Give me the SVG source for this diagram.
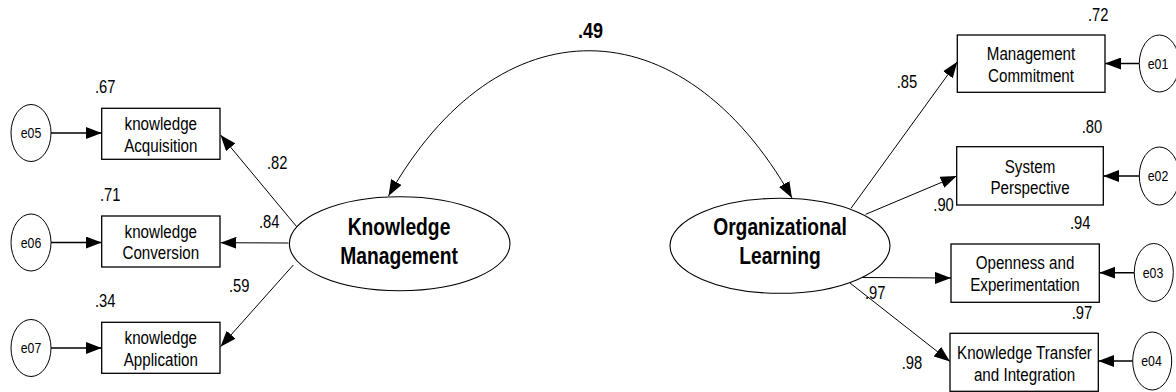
<svg xmlns="http://www.w3.org/2000/svg" width="1176" height="392" viewBox="0 0 1176 392">
  <style>
    .box { fill: #fff; stroke: #000; stroke-width: 1.3; }
    .lat { fill: #fff; stroke: #000; stroke-width: 1.1; }
    .err { fill: #fff; stroke: #000; stroke-width: 1; }
    .path { fill: none; stroke: #000; stroke-width: 1; marker-end: url(#arrow); }
    .epath { fill: none; stroke: #000; stroke-width: 1.6; marker-end: url(#arrow); }
    .cov { fill: none; stroke: #000; stroke-width: 1; marker-start: url(#arrowS); marker-end: url(#arrow); }
    text { font-family: "Liberation Sans", Arial, sans-serif; fill: #000; }
    .lbl { font-size: 18.5px; text-anchor: middle; }
    .big { font-size: 23.5px; font-weight: bold; text-anchor: middle; }
    .num { font-size: 18px; }
    .cor { font-size: 22px; font-weight: bold; text-anchor: middle; }
    .e { font-size: 15px; text-anchor: middle; }
  </style>
  <defs>
    <marker id="arrow" markerUnits="userSpaceOnUse" markerWidth="16" markerHeight="12" refX="16" refY="6" orient="auto">
      <path d="M0,0 L16,6 L0,12 z" fill="#000"/>
    </marker>
    <marker id="arrowS" markerUnits="userSpaceOnUse" markerWidth="16" markerHeight="12" refX="16" refY="6" orient="auto-start-reverse">
      <path d="M0,0 L16,6 L0,12 z" fill="#000"/>
    </marker>
  </defs>

  <rect width="1176" height="392" fill="#fff"/>

  <!-- connectors -->
  <g id="connectors">
    <!-- covariance between the two latent variables -->
    <path class="cov" d="M388.5,196 C498,1 682,3 792,198"/>
    <!-- Knowledge Management loadings -->
    <line class="path" x1="296.7" y1="226.7" x2="220.5" y2="135"/>
    <line class="path" x1="288.5" y1="243" x2="220.5" y2="242.7"/>
    <line class="path" x1="293.3" y1="265" x2="220.5" y2="346.7"/>
    <!-- Organizational Learning loadings -->
    <line class="path" x1="851" y1="208.3" x2="957.3" y2="61.7"/>
    <line class="path" x1="865.7" y1="214.3" x2="956.7" y2="176"/>
    <line class="path" x1="862" y1="277.5" x2="951" y2="278"/>
    <line class="path" x1="850" y1="283" x2="950" y2="361.5"/>
    <!-- error terms -->
    <line class="epath" x1="51" y1="133" x2="101.7" y2="133"/>
    <line class="epath" x1="51" y1="242.5" x2="101.7" y2="242.5"/>
    <line class="epath" x1="51" y1="348" x2="101.7" y2="348"/>
    <line class="epath" x1="1139.3" y1="63.5" x2="1105" y2="63.5"/>
    <line class="epath" x1="1139.3" y1="176" x2="1103.3" y2="176"/>
    <line class="epath" x1="1134" y1="272.7" x2="1099.3" y2="272.7"/>
    <line class="epath" x1="1132.7" y1="361" x2="1098.3" y2="361"/>
  </g>

  <!-- coefficients (narrow lettering: text is squeezed to 82% width) -->
  <g id="coefficients">
    <text class="cor" transform="translate(590.5,37.5) scale(0.82,1)">.49</text>
    <text class="num" transform="translate(95,93) scale(0.82,1)">.67</text>
    <text class="num" transform="translate(100,201) scale(0.82,1)">.71</text>
    <text class="num" transform="translate(95,307) scale(0.82,1)">.34</text>
    <text class="num" transform="translate(267,169) scale(0.82,1)">.82</text>
    <text class="num" transform="translate(259,228) scale(0.82,1)">.84</text>
    <text class="num" transform="translate(229,292) scale(0.82,1)">.59</text>
    <text class="num" transform="translate(1088,20.7) scale(0.82,1)">.72</text>
    <text class="num" transform="translate(896.7,88.3) scale(0.82,1)">.85</text>
    <text class="num" transform="translate(1081.7,132.7) scale(0.82,1)">.80</text>
    <text class="num" transform="translate(933.3,210.7) scale(0.82,1)">.90</text>
    <text class="num" transform="translate(1070,229.3) scale(0.82,1)">.94</text>
    <text class="num" transform="translate(865,299) scale(0.82,1)">.97</text>
    <text class="num" transform="translate(1071.7,319.3) scale(0.82,1)">.97</text>
    <text class="num" transform="translate(901.7,369.3) scale(0.82,1)">.98</text>
  </g>

  <!-- latent variables -->
  <g id="knowledge-management">
    <ellipse class="lat" cx="399.7" cy="243.7" rx="110.3" ry="47"/>
    <text class="big" transform="translate(399,235) scale(0.82,1)">Knowledge</text>
    <text class="big" transform="translate(399,264) scale(0.82,1)">Management</text>
  </g>
  <g id="organizational-learning">
    <ellipse class="lat" cx="780" cy="245.8" rx="110" ry="47.5"/>
    <text class="big" transform="translate(780,235) scale(0.82,1)">Organizational</text>
    <text class="big" transform="translate(780,264) scale(0.82,1)">Learning</text>
  </g>

  <!-- observed indicators: knowledge management -->
  <g id="knowledge-acquisition">
    <rect class="box" x="101.7" y="108.3" width="118.3" height="51"/>
    <text class="lbl" transform="translate(160.8,130) scale(0.82,1)">knowledge</text>
    <text class="lbl" transform="translate(160.8,151.7) scale(0.82,1)">Acquisition</text>
  </g>
  <g id="knowledge-conversion">
    <rect class="box" x="101.7" y="216" width="118.3" height="51"/>
    <text class="lbl" transform="translate(160.8,237.7) scale(0.82,1)">knowledge</text>
    <text class="lbl" transform="translate(160.8,259.4) scale(0.82,1)">Conversion</text>
  </g>
  <g id="knowledge-application">
    <rect class="box" x="101.7" y="322.3" width="118.3" height="51"/>
    <text class="lbl" transform="translate(160.8,344) scale(0.82,1)">knowledge</text>
    <text class="lbl" transform="translate(160.8,365.7) scale(0.82,1)">Application</text>
  </g>

  <!-- observed indicators: organizational learning -->
  <g id="management-commitment">
    <rect class="box" x="957.3" y="35" width="147.7" height="57.3"/>
    <text class="lbl" transform="translate(1031,60) scale(0.82,1)">Management</text>
    <text class="lbl" transform="translate(1031,81.7) scale(0.82,1)">Commitment</text>
  </g>
  <g id="system-perspective">
    <rect class="box" x="956.7" y="146.7" width="146.6" height="58.3"/>
    <text class="lbl" transform="translate(1030,172.7) scale(0.82,1)">System</text>
    <text class="lbl" transform="translate(1030,194.4) scale(0.82,1)">Perspective</text>
  </g>
  <g id="openness-experimentation">
    <rect class="box" x="951" y="244" width="148.3" height="58.3"/>
    <text class="lbl" transform="translate(1025,269.3) scale(0.82,1)">Openness and</text>
    <text class="lbl" transform="translate(1025,291.3) scale(0.82,1)">Experimentation</text>
  </g>
  <g id="knowledge-transfer-integration">
    <rect class="box" x="950" y="333.3" width="148.3" height="58"/>
    <text class="lbl" transform="translate(1024.5,359) scale(0.82,1)">Knowledge Transfer</text>
    <text class="lbl" transform="translate(1024.5,381) scale(0.82,1)">and Integration</text>
  </g>

  <!-- error terms -->
  <g id="e05">
    <ellipse class="err" cx="31" cy="133" rx="20" ry="28.5"/>
    <text class="e" transform="translate(31,138) scale(0.82,1)">e05</text>
  </g>
  <g id="e06">
    <ellipse class="err" cx="31" cy="242.5" rx="20" ry="28.5"/>
    <text class="e" transform="translate(31,247.5) scale(0.82,1)">e06</text>
  </g>
  <g id="e07">
    <ellipse class="err" cx="31" cy="348" rx="20" ry="28.5"/>
    <text class="e" transform="translate(31,353) scale(0.82,1)">e07</text>
  </g>
  <g id="e01">
    <ellipse class="err" cx="1159.3" cy="63.5" rx="20" ry="28.5"/>
    <text class="e" transform="translate(1158,68.5) scale(0.82,1)">e01</text>
  </g>
  <g id="e02">
    <ellipse class="err" cx="1159.3" cy="176" rx="20" ry="29"/>
    <text class="e" transform="translate(1158,181) scale(0.82,1)">e02</text>
  </g>
  <g id="e03">
    <ellipse class="err" cx="1153.8" cy="272.5" rx="19.5" ry="29"/>
    <text class="e" transform="translate(1153,277.5) scale(0.82,1)">e03</text>
  </g>
  <g id="e04">
    <ellipse class="err" cx="1152.2" cy="361" rx="19.5" ry="29"/>
    <text class="e" transform="translate(1151.5,366) scale(0.82,1)">e04</text>
  </g>
</svg>
